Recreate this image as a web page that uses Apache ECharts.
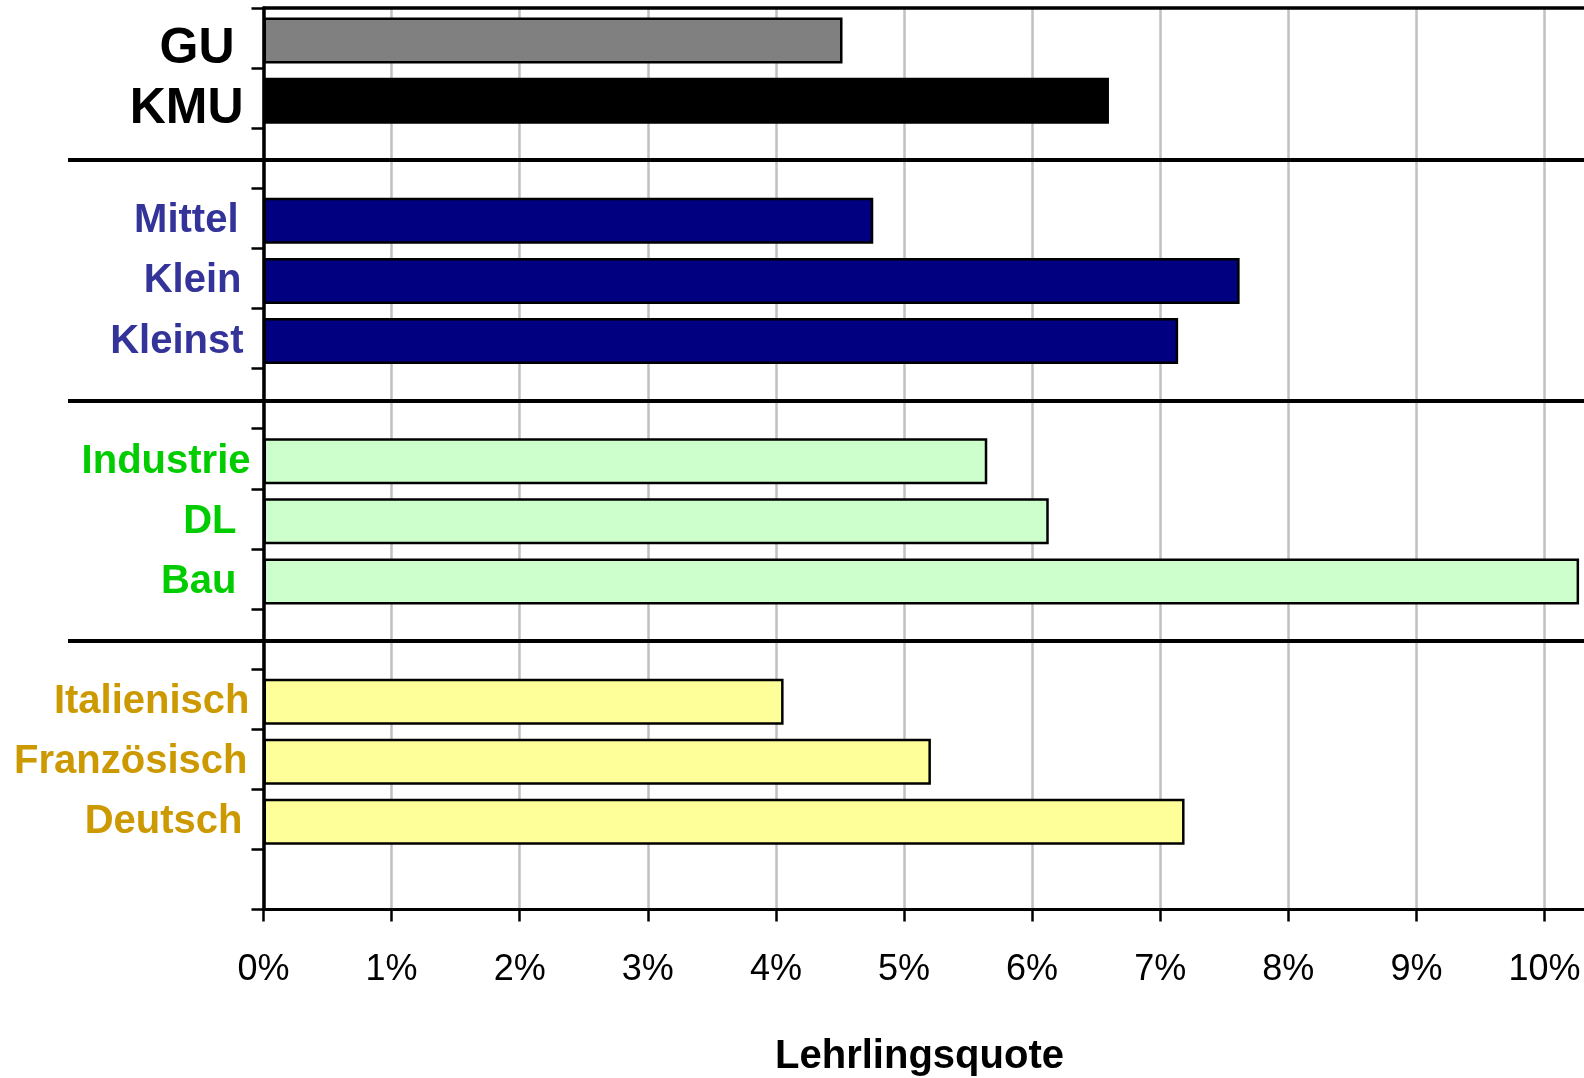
<!DOCTYPE html>
<html>
<head>
<meta charset="utf-8">
<script src="https://cdn.jsdelivr.net/npm/echarts@6/dist/echarts.min.js"></script>
<style>
html,body{margin:0;padding:0;background:#ffffff;}
#chart{width:1584px;height:1078px;}
</style>
</head>
<body>
<div id="chart"></div>
<script>
// ---- data ----
const sizeCats = ['GU', 'KMU'];
const sizeVals = [4.52, 6.60];
const classCats = ['Mittel', 'Klein', 'Kleinst'];
const classVals = [4.76, 7.62, 7.14];
const sectorCats = ['Industrie', 'DL', 'Bau'];
const sectorVals = [5.65, 6.13, 10.27];
const langCats = ['Italienisch', 'Französisch', 'Deutsch'];
const langVals = [4.06, 5.21, 7.19];
const xTickValues = [0, 1, 2, 3, 4, 5, 6, 7, 8, 9, 10];
const xTitle = 'Lehrlingsquote';

// ---- styles ----
const FONT = '"Liberation Sans", Arial, Helvetica, sans-serif';
const groups = [
  { cats: sizeCats, vals: sizeVals, fills: ['#808080', '#000000'], labelColor: '#000000', fontSize: 50, shift: 22 },
  { cats: classCats, vals: classVals, fills: ['#000080'], labelColor: '#333399', fontSize: 40, shift: 6 },
  { cats: sectorCats, vals: sectorVals, fills: ['#ccffcc'], labelColor: '#00cc00', fontSize: 40, shift: 6 },
  { cats: langCats, vals: langVals, fills: ['#ffff99'], labelColor: '#cc9900', fontSize: 40, shift: 6 }
];
// extra right padding of each label (mimics the original hand-placed text boxes)
const labelPadRight = { 'GU': 16, 'KMU': 7, 'Mittel': 12, 'Klein': 9, 'Kleinst': 7, 'Industrie': 0, 'DL': 14, 'Bau': 14, 'Italienisch': 1, 'Französisch': 3, 'Deutsch': 8 };

const categories = [];
const seriesData = [];
const rich = {};
groups.forEach(g => {
  g.cats.forEach((c, i) => {
    const idx = categories.length;
    categories.push(c);
    seriesData.push({ value: g.vals[i], itemStyle: { color: g.fills[i % g.fills.length] } });
    rich['r' + idx] = {
      fontFamily: FONT, fontWeight: 'bold', fontSize: g.fontSize, color: g.labelColor,
      padding: [g.shift, labelPadRight[c] || 0, 0, 0]
    };
  });
  categories.push('');
  seriesData.push('-');
});

const chart = echarts.init(document.getElementById('chart'), null, { renderer: 'canvas' });

const option = {
  animation: false,
  backgroundColor: '#ffffff',
  grid: { left: 263.5, top: 8, bottom: 168.5, right: -88.6, containLabel: false, outerBoundsMode: 'none' },
  xAxis: [
    {
      type: 'value', position: 'bottom', min: 0, max: 11, interval: 1,
      axisLine: { show: true, lineStyle: { color: '#000', width: 3 } },
      axisTick: { show: true, length: 12, lineStyle: { color: '#000', width: 2.5 } },
      axisLabel: {
        show: true, margin: 43, fontSize: 36, color: '#000', fontFamily: FONT,
        formatter: v => (xTickValues.indexOf(v) >= 0 ? v + '%' : '')
      },
      splitLine: { show: true, lineStyle: { color: '#c0c0c0', width: 2.5 } }
    },
    {
      type: 'value', position: 'top', min: 0, max: 11, interval: 1,
      axisLine: { show: true, lineStyle: { color: '#000', width: 3.5 } },
      axisTick: { show: false }, axisLabel: { show: false }, splitLine: { show: false }
    }
  ],
  yAxis: {
    type: 'category', inverse: true, data: categories,
    axisLine: { show: true, lineStyle: { color: '#000', width: 3.5 } },
    axisTick: { show: true, length: 12, lineStyle: { color: '#000', width: 2.5 } },
    axisLabel: {
      show: true, interval: 0, margin: 13,
      formatter: (v, i) => (v ? '{r' + i + '|' + v + '}' : ''),
      rich: rich
    },
    splitLine: { show: false }
  },
  series: [
    { // empty spacer so the bars sit slightly below the band centre, as in the original
      type: 'bar', xAxisIndex: 0, data: [], barWidth: 1, barGap: '400%', silent: true
    },
    {
      type: 'bar', xAxisIndex: 0, data: seriesData, barWidth: 46, barGap: '400%',
      itemStyle: { borderColor: '#000', borderWidth: 2.5 },
      label: { show: false }
    }
  ]
};
chart.setOption(option);

// separators through the middle of each blank category, and the axis title
const sepIdx = categories.map((c, i) => (c === '' && i < categories.length - 1 ? i : -1)).filter(i => i >= 0);
const graphics = sepIdx.map(i => {
  const y = Math.round(chart.convertToPixel({ yAxisIndex: 0 }, i)) + 2;
  return { type: 'line', shape: { x1: 68, y1: y, x2: 1584, y2: y }, style: { stroke: '#000', lineWidth: 4 }, z: 100 };
});
graphics.push({
  type: 'text', x: 919.5, y: 1057,
  style: { text: xTitle, fontFamily: FONT, fontWeight: 'bold', fontSize: 40, fill: '#000', textAlign: 'center', textVerticalAlign: 'middle' },
  z: 100
});
chart.setOption({ graphic: graphics });
</script>
</body>
</html>
